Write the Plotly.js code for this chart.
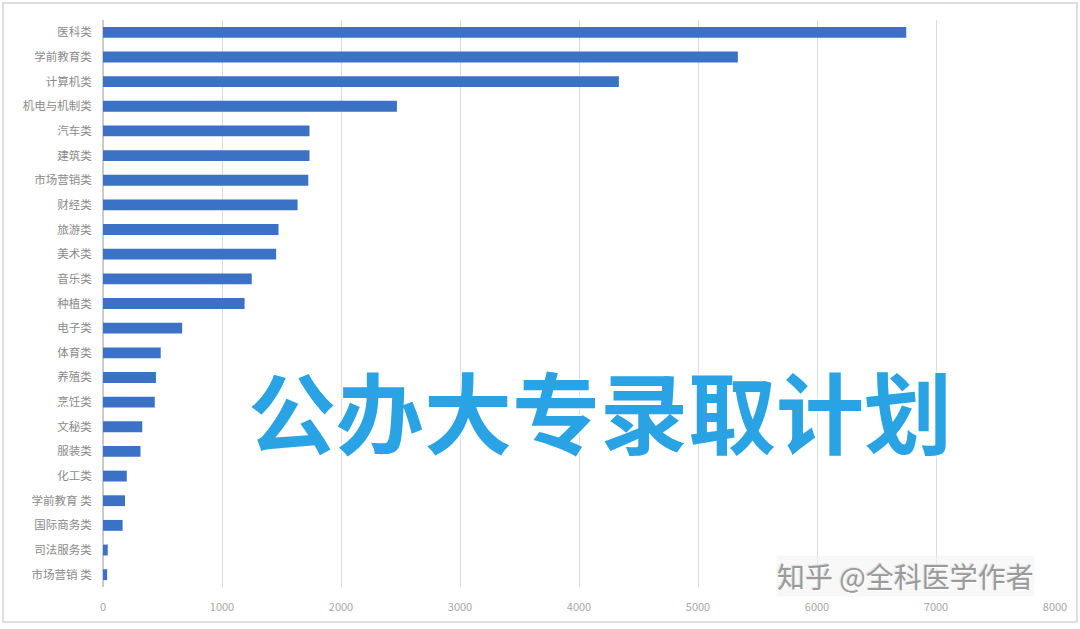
<!DOCTYPE html>
<html>
<head>
<meta charset="utf-8">
<script src="https://cdn.plot.ly/plotly-3.0.1.min.js"></script>
<style>
html,body{margin:0;padding:0;background:#fff;}
#chart{width:1080px;height:629px;}
</style>
</head>
<body>
<div id="chart"></div>
<script>
const categories = ["医科类","学前教育类","计算机类","机电与机制类","汽车类","建筑类","市场营销类","财经类","旅游类","美术类","音乐类","种植类","电子类","体育类","养殖类","烹饪类","文秘类","服装类","化工类","学前教育 类","国际商务类","司法服务类","市场营销 类"];
const values = [6750,5335,4335,2470,1735,1735,1725,1635,1475,1455,1250,1190,665,485,445,435,330,315,200,185,165,40,35];
const xTicks = [0,1000,2000,3000,4000,5000,6000,7000,8000];
const overlayTitle = "公办大专录取计划";
const watermark = "知乎 @全科医学作者";

const cjk = '"Noto Sans CJK SC", "Noto Sans", sans-serif';

const trace = {
  type: 'bar',
  orientation: 'h',
  y: categories,
  x: values,
  marker: {color: '#3b72c6'},
  hoverinfo: 'x+y'
};

const layout = {
  width: 1080,
  height: 629,
  margin: {l: 103, r: 25, t: 20, b: 42},
  paper_bgcolor: '#ffffff',
  plot_bgcolor: '#ffffff',
  showlegend: false,
  bargap: 0.56,
  font: {family: cjk, color: '#8c8c8c', size: 11},
  xaxis: {
    range: [0, 8000],
    tickvals: xTicks,
    ticktext: xTicks.map(String),
    showgrid: true,
    gridcolor: '#dadada',
    gridwidth: 1,
    zeroline: true,
    zerolinecolor: '#c8c8c8',
    showline: false,
    ticks: '',
    ticklabelstandoff: 12,
    tickfont: {size: 11, color: '#a8a8a8', family: cjk},
    fixedrange: true
  },
  yaxis: {
    type: 'category',
    categoryorder: 'array',
    categoryarray: categories,
    autorange: 'reversed',
    showgrid: false,
    zeroline: false,
    showline: true,
    linecolor: '#cfcfcf',
    ticks: '',
    ticklabelstandoff: 8,
    tickfont: {size: 11.5, color: '#8a8a8a', family: cjk},
    fixedrange: true
  },
  shapes: [{
    type: 'rect', xref: 'paper', yref: 'paper',
    x0: -0.105, x1: 1.023, y0: -0.0617, y1: 1.03,
    line: {color: '#d4d4d4', width: 1.5},
    fillcolor: 'rgba(0,0,0,0)', layer: 'below'
  }],
  annotations: [
    {
      text: overlayTitle,
      xref: 'paper', yref: 'paper',
      x: (600 - 103) / 952, y: (587 - 408) / 567,
      xanchor: 'center', yanchor: 'middle',
      showarrow: false,
      font: {family: '"Noto Sans CJK SC", sans-serif', size: 88, color: '#2aa3e4', weight: 700,
             shadow: '0 0 3px #ffffff, 0 0 6px #ffffff'}
    },
    {
      text: watermark,
      xref: 'paper', yref: 'paper',
      x: (905 - 103) / 952, y: (587 - 576) / 567,
      xanchor: 'center', yanchor: 'middle',
      showarrow: false,
      borderpad: 0,
      bgcolor: 'rgba(244,244,244,0.6)',
      font: {family: '"Noto Sans CJK SC", sans-serif', size: 28, color: '#9a9a9a',
             shadow: '1px 1px 1px #ffffff, -1px -1px 1px #e0e0e0'}
    }
  ]
};

Plotly.newPlot('chart', [trace], layout, {displayModeBar: false, staticPlot: true});
</script>
</body>
</html>
